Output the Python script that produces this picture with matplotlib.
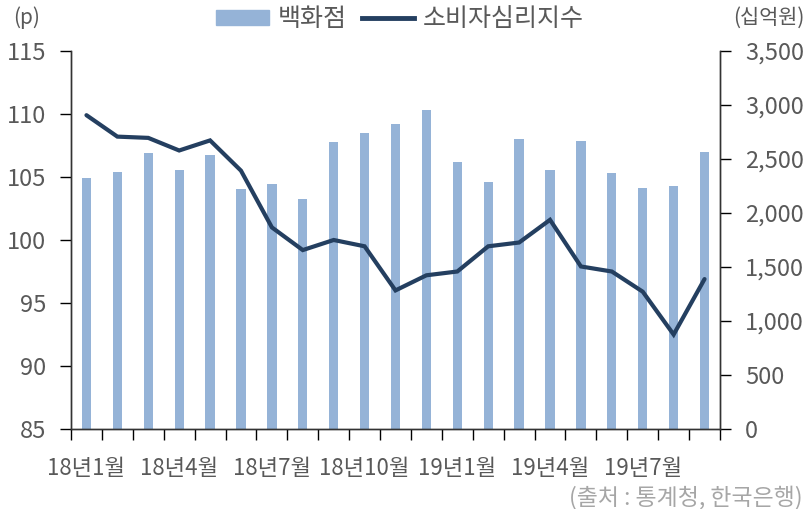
import matplotlib.pyplot as plt
from matplotlib.ticker import FuncFormatter, FixedLocator
from matplotlib.patches import Patch
from matplotlib.lines import Line2D

plt.rcParams['font.family'] = ['Noto Sans CJK KR', 'DejaVu Sans']

# data
months = ["18년1월", "18년2월", "18년3월", "18년4월", "18년5월", "18년6월",
          "18년7월", "18년8월", "18년9월", "18년10월", "18년11월", "18년12월",
          "19년1월", "19년2월", "19년3월", "19년4월", "19년5월", "19년6월",
          "19년7월", "19년8월", "19년9월"]
dept_store = [2324, 2380, 2556, 2398, 2537, 2222, 2268, 2130, 2657, 2741, 2824,
              2954, 2472, 2287, 2685, 2398, 2667, 2370, 2231, 2250, 2565]
ccsi = [109.9, 108.2, 108.1, 107.1, 107.9, 105.5, 101.0, 99.2, 100.0, 99.5, 96.0,
        97.2, 97.5, 99.5, 99.8, 101.6, 97.9, 97.5, 95.9, 92.5, 96.9]

bar_color = "#95B3D7"
line_color = "#243F60"
text_color = "#595959"

x = list(range(len(months)))

fig = plt.figure(figsize=(8.05, 5.09), dpi=100)
ax = fig.add_axes([0.0882, 0.157, 0.8062, 0.743])
ax2 = ax.twinx()

# bars on right axis, drawn underneath
ax2.bar(x, dept_store, width=0.3, color=bar_color)
ax2.set_ylim(0, 3500)
ax2.set_yticks(range(0, 3501, 500))
ax2.yaxis.set_major_formatter(FuncFormatter(lambda v, p: f"{int(v):,}"))

# line on left axis
ax.plot(x, ccsi, color=line_color, linewidth=3, solid_capstyle="round",
        solid_joinstyle="miter")
ax.set_ylim(85, 115)
ax.set_yticks(range(85, 116, 5))
ax.set_zorder(ax2.get_zorder() + 1)
ax.patch.set_visible(False)

ax.set_xlim(-0.5, len(months) - 0.5)
ax.set_xticks(x[::3])
ax.set_xticklabels(months[::3])
ax.xaxis.set_minor_locator(FixedLocator([i - 0.5 for i in range(len(months) + 1)]))
ax.tick_params(axis="x", which="major", length=0, pad=20, labelsize=16,
               labelcolor=text_color)
ax.tick_params(axis="x", which="minor", length=8, direction="out", width=1)
ax.tick_params(axis="y", length=8, width=1, labelsize=17, labelcolor=text_color,
               pad=10)
ax2.tick_params(axis="y", length=8, width=1, labelsize=17, labelcolor=text_color,
                pad=10)

for a in (ax, ax2):
    a.spines["top"].set_visible(False)
    for s in ("left", "right", "bottom"):
        a.spines[s].set_color("#333333")
        a.spines[s].set_linewidth(1)

fig.text(0.016, 0.965, "(p)", fontsize=15, color=text_color, va="center")
fig.text(0.999, 0.965, "(십억원)", fontsize=15, color=text_color, va="center",
         ha="right")
fig.text(0.997, 0.022, "(출처 : 통계청, 한국은행)", fontsize=16.5, color="#A6A6A6",
         va="center", ha="right")

handles = [Patch(color=bar_color), Line2D([0], [0], color=line_color, linewidth=3.5)]
fig.legend(handles, ["백화점", "소비자심리지수"], loc="center", ncol=2,
           bbox_to_anchor=(0.497, 0.962), frameon=False, fontsize=18,
           labelcolor=text_color, handlelength=2.1, handleheight=0.55,
           handletextpad=0.35, columnspacing=0.6)

fig.savefig("out.png", dpi=100)
